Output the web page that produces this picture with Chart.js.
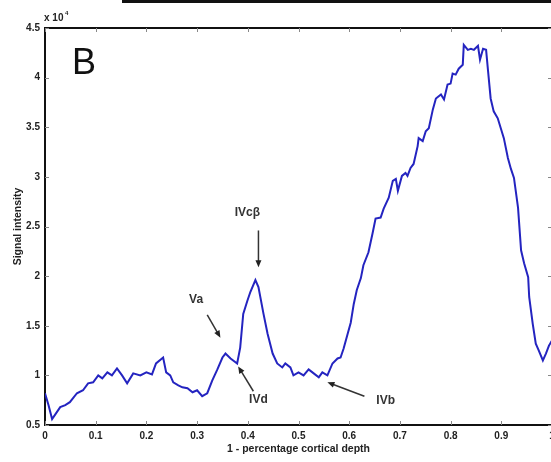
<!DOCTYPE html>
<html><head><meta charset="utf-8">
<script src="https://cdn.jsdelivr.net/npm/chart.js@4/dist/chart.umd.min.js"></script>
<style>
html,body{margin:0;padding:0;background:#fff;overflow:hidden;width:551px;height:462px}
#wrap{position:relative;width:551px;height:462px;overflow:hidden}
canvas{display:block}
</style></head>
<body><div id="wrap"><canvas id="c" width="590" height="462"></canvas></div>
<script>
// 1 - percentage cortical depth
const depth = [0.000,0.007,0.014,0.022,0.030,0.040,0.049,0.063,0.075,0.085,0.095,0.105,0.113,0.123,0.132,0.142,0.152,0.162,0.174,0.188,0.200,0.211,0.219,0.233,0.239,0.247,0.253,0.263,0.271,0.281,0.291,0.300,0.310,0.320,0.330,0.340,0.350,0.356,0.366,0.379,0.385,0.391,0.399,0.405,0.415,0.421,0.431,0.439,0.449,0.458,0.468,0.474,0.484,0.490,0.500,0.510,0.520,0.530,0.540,0.547,0.557,0.567,0.577,0.583,0.589,0.597,0.603,0.609,0.615,0.623,0.628,0.638,0.646,0.652,0.662,0.668,0.678,0.686,0.692,0.696,0.704,0.711,0.715,0.721,0.727,0.735,0.737,0.745,0.751,0.757,0.765,0.771,0.781,0.787,0.794,0.800,0.804,0.810,0.816,0.824,0.826,0.834,0.840,0.846,0.854,0.858,0.864,0.870,0.874,0.879,0.885,0.893,0.899,0.905,0.913,0.919,0.925,0.933,0.939,0.945,0.953,0.955,0.962,0.968,0.974,0.982,0.988,0.994,1.000];
// Signal intensity (x 10^4)
const intensity = [0.82,0.70,0.56,0.62,0.68,0.70,0.73,0.82,0.85,0.92,0.93,1.00,0.97,1.03,1.00,1.07,1.00,0.92,1.02,1.00,1.03,1.01,1.12,1.18,1.03,1.00,0.93,0.90,0.88,0.87,0.83,0.85,0.79,0.82,0.95,1.06,1.18,1.22,1.17,1.12,1.28,1.62,1.75,1.84,1.96,1.89,1.62,1.42,1.22,1.12,1.08,1.12,1.08,1.00,1.03,1.00,1.06,1.02,0.98,1.03,1.00,1.12,1.17,1.18,1.27,1.42,1.53,1.72,1.86,1.98,2.11,2.24,2.43,2.58,2.59,2.68,2.79,2.96,2.98,2.86,3.01,3.04,3.01,3.09,3.13,3.31,3.39,3.36,3.46,3.49,3.68,3.79,3.83,3.78,3.93,3.94,4.04,4.03,4.09,4.13,4.33,4.28,4.29,4.28,4.32,4.18,4.29,4.28,4.06,3.79,3.66,3.59,3.49,3.39,3.19,3.08,2.99,2.69,2.26,2.13,1.99,1.79,1.52,1.32,1.25,1.15,1.22,1.30,1.35];

const xTicks = [0,0.1,0.2,0.3,0.4,0.5,0.6,0.7,0.8,0.9,1];
const xTickLabels = ['0','0.1','0.2','0.3','0.4','0.5','0.6','0.7','0.8','0.9','1'];
const yTicks = [0.5,1,1.5,2,2.5,3,3.5,4,4.5];
const yTickLabels = ['0.5','1','1.5','2','2.5','3','3.5','4','4.5'];

// annotations: text, label position, arrow tail, arrow head (data units)
const annText  = ['IVc\u03b2','Va','IVd','IVb'];
const annLabelX = [0.399,0.298,0.421,0.672];
const annLabelY = [2.64,1.76,0.76,0.75];
const annTailX = [0.421,0.320,0.411,0.630];
const annTailY = [2.46,1.61,0.84,0.79];
const annHeadX = [0.421,0.346,0.381,0.557];
const annHeadY = [2.09,1.38,1.09,0.93];

const FONT = '"Liberation Sans", Arial, sans-serif';

const decor = {
  id:'decor',
  afterDraw(chart){
    const {ctx, chartArea:a, scales:{x,y}} = chart;
    ctx.save();
    // strip of neighbouring panel at the very top
    ctx.fillStyle='#111';
    ctx.fillRect(122,0,chart.width,3);
    // box top/right
    ctx.strokeStyle='#111'; ctx.lineWidth=2;
    ctx.beginPath(); ctx.moveTo(a.left-1,a.top); ctx.lineTo(a.right,a.top); ctx.lineTo(a.right,a.bottom); ctx.stroke();
    // inward ticks
    ctx.strokeStyle='#888'; ctx.lineWidth=1;
    ctx.beginPath();
    xTicks.forEach(v=>{const p=Math.round(x.getPixelForValue(v))+0.5;
      ctx.moveTo(p,a.bottom); ctx.lineTo(p,a.bottom-4);
      ctx.moveTo(p,a.top); ctx.lineTo(p,a.top+4);});
    yTicks.forEach(v=>{const p=Math.round(y.getPixelForValue(v))+0.5;
      ctx.moveTo(a.left,p); ctx.lineTo(a.left+4,p);
      ctx.moveTo(a.right,p); ctx.lineTo(a.right-4,p);});
    ctx.stroke();
    // exponent label
    ctx.fillStyle='#222';
    ctx.font='bold 10px '+FONT; ctx.textBaseline='alphabetic'; ctx.textAlign='left';
    ctx.fillText('x 10', a.left-1, a.top-7);
    ctx.font='bold 6px '+FONT;
    ctx.fillText('4', a.left+20, a.top-13);
    // panel letter
    ctx.font='36px '+FONT; ctx.fillStyle='#111';
    ctx.fillText('B', 72, 74);
    // annotations
    ctx.font='bold 12px '+FONT; ctx.textAlign='center'; ctx.textBaseline='middle';
    annText.forEach((t,i)=>{
      ctx.fillStyle='#333';
      ctx.fillText(t, x.getPixelForValue(annLabelX[i]), y.getPixelForValue(annLabelY[i]));
      const x1=x.getPixelForValue(annTailX[i]), y1=y.getPixelForValue(annTailY[i]);
      const x2=x.getPixelForValue(annHeadX[i]), y2=y.getPixelForValue(annHeadY[i]);
      const ang=Math.atan2(y2-y1,x2-x1), L=7, W=3;
      ctx.strokeStyle='#333'; ctx.lineWidth=1.5;
      ctx.beginPath(); ctx.moveTo(x1,y1); ctx.lineTo(x2-Math.cos(ang)*L*0.8,y2-Math.sin(ang)*L*0.8); ctx.stroke();
      ctx.fillStyle='#222';
      ctx.beginPath(); ctx.moveTo(x2,y2);
      ctx.lineTo(x2-Math.cos(ang)*L-Math.sin(ang)*W, y2-Math.sin(ang)*L+Math.cos(ang)*W);
      ctx.lineTo(x2-Math.cos(ang)*L+Math.sin(ang)*W, y2-Math.sin(ang)*L-Math.cos(ang)*W);
      ctx.closePath(); ctx.fill();
    });
    ctx.restore();
  }
};

new Chart(document.getElementById('c'), {
  type:'line',
  data:{datasets:[{
    data: depth.map((d,i)=>({x:d, y:intensity[i]})),
    borderColor:'#2424c0', borderWidth:2, pointRadius:0, tension:0, fill:false
  }]},
  options:{
    responsive:false, animation:false, devicePixelRatio:1,
    layout:{padding:{left:0, right:38, top:28, bottom:0}},
    plugins:{legend:{display:false}, tooltip:{enabled:false}},
    scales:{
      x:{type:'linear', min:0, max:1,
        afterBuildTicks:s=>{s.ticks=xTicks.map(v=>({value:v}));},
        afterFit:s=>{s.height=37;},
        grid:{display:false, drawTicks:false},
        border:{display:true, color:'#111', width:2},
        ticks:{padding:5, color:'#222', font:{family:FONT, size:10, weight:'bold'},
          maxRotation:0, autoSkip:false,
          callback:(v)=>{const i=xTicks.findIndex(t=>Math.abs(t-v)<1e-9); return i>=0?xTickLabels[i]:'';}},
        title:{display:true, text:'1 - percentage cortical depth', color:'#222',
          font:{family:FONT, size:10.5, weight:'bold'}, padding:{top:0,bottom:7}}
      },
      y:{type:'linear', min:0.5, max:4.5,
        afterBuildTicks:s=>{s.ticks=yTicks.map(v=>({value:v}));},
        afterFit:s=>{s.width=45;},
        grid:{display:false, drawTicks:false},
        border:{display:true, color:'#111', width:2},
        ticks:{padding:5, color:'#222', font:{family:FONT, size:10, weight:'bold'}, autoSkip:false,
          callback:(v)=>{const i=yTicks.findIndex(t=>Math.abs(t-v)<1e-9); return i>=0?yTickLabels[i]:'';}},
        title:{display:true, text:'Signal intensity', color:'#222',
          font:{family:FONT, size:10.5, weight:'bold'}, padding:{top:12,bottom:0}}
      }
    }
  },
  plugins:[decor]
});
</script>
</body></html>
